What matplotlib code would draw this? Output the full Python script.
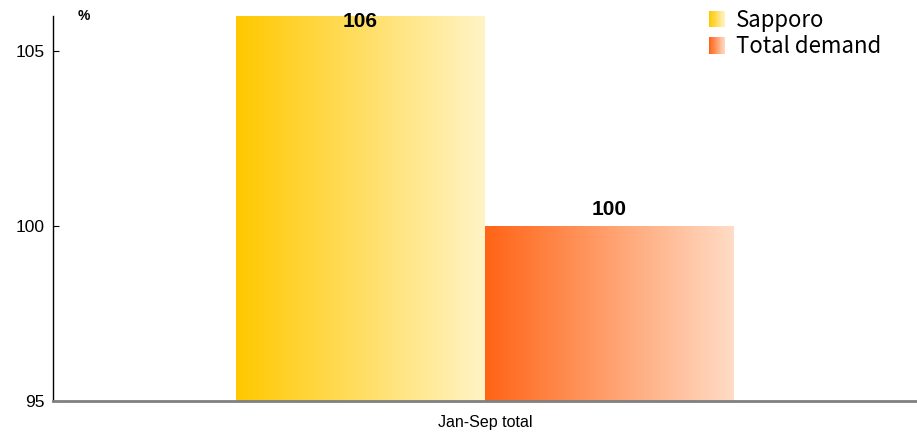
import numpy as np
import matplotlib.pyplot as plt
from matplotlib.patches import Rectangle
from matplotlib.colors import LinearSegmentedColormap
from matplotlib.legend_handler import HandlerPatch

plt.rcParams['font.family'] = ['Liberation Sans', 'DejaVu Sans']

category = 'Jan-Sep total'
series = ['Sapporo', 'Total demand']
values = [106, 100]
grad_colors = [('#FFC800', '#FFF4C6'), ('#FF6416', '#FFDCC6')]

fig = plt.figure(figsize=(9.17, 4.34), dpi=100)
ax = fig.add_axes([53 / 917, 33 / 434, 864 / 917, 385 / 434])

width = 0.288
offsets = [-width / 2, width / 2]
ymin = 95
grad = np.linspace(0, 1, 256).reshape(1, -1)

for off, val, cols in zip(offsets, values, grad_colors):
    bar = ax.bar(off, val - ymin, width, bottom=ymin, color='none', linewidth=0)[0]
    cmap = LinearSegmentedColormap.from_list('g', cols)
    x0 = off - width / 2
    im = ax.imshow(grad, cmap=cmap, aspect='auto', extent=[x0, x0 + width, ymin, val],
                   interpolation='bicubic', zorder=1)
    im.set_clip_path(bar)
    if val >= 105.5:
        ax.text(off, val - 0.17, f'{val}', ha='center', va='center', fontsize=15,
                fontweight='bold', clip_on=False)
    else:
        ax.text(off, val + 0.46, f'{val}', ha='center', va='center', fontsize=15,
                fontweight='bold')

ax.set_xlim(-0.5, 0.5)
ax.set_ylim(95, 106)
ax.set_yticks([95, 100, 105])
ax.set_xticks([0])
ax.set_xticklabels([category])
ax.tick_params(axis='x', length=0, labelsize=11.5, pad=10)
ax.tick_params(axis='y', direction='in', length=4, labelsize=12.5, pad=6)
for s in ['top', 'right']:
    ax.spines[s].set_visible(False)
ax.spines['bottom'].set_color('#808080')
ax.spines['bottom'].set_linewidth(2)
ax.spines['left'].set_linewidth(1)
ax.spines['bottom'].set_zorder(3)

fig.text(78 / 917, 1 - 16 / 434, '%', fontsize=10, fontweight='bold', va='center')


class GradientHandler(HandlerPatch):
    def __init__(self, cols):
        super().__init__()
        self.cols = cols

    def create_artists(self, legend, orig_handle, xdescent, ydescent, width, height,
                       fontsize, trans):
        cmap = LinearSegmentedColormap.from_list('g', self.cols)
        n = 20
        size = height * 1.05
        arts = []
        for i in range(n):
            r = Rectangle((-xdescent + i * size / n, -ydescent + (height - size) / 2),
                          size / n * 1.05, size, facecolor=cmap(i / (n - 1)),
                          linewidth=0, transform=trans)
            arts.append(r)
        return arts


handles = [Rectangle((0, 0), 1, 1) for _ in series]
leg = ax.legend(handles, series, loc='upper left', bbox_to_anchor=(709 / 917, 1 - 9 / 434),
                bbox_transform=fig.transFigure, borderpad=0, borderaxespad=0,
                frameon=False, handlelength=0.75, handletextpad=0.45, labelspacing=0.15,
                prop={'family': ['Noto Sans CJK JP', 'DejaVu Sans'], 'size': 16},
                handler_map={h: GradientHandler(c) for h, c in zip(handles, grad_colors)})

fig.savefig('out.png', dpi=100)
